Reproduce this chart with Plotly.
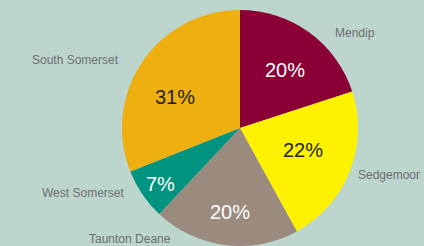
import plotly.graph_objects as go

labels = ["Mendip", "Sedgemoor", "Taunton Deane", "West Somerset", "South Somerset"]
values = [20, 22, 20, 7, 31]
colors = ["#8a0036", "#fff200", "#9b8b7e", "#00937f", "#eeb010"]
text_colors = ["white", "#222222", "white", "white", "#222222"]

# outside label positions and inside percent positions (pixels from top-left)
label_pos = [(355, 33), (389, 175), (130, 239), (83, 193), (75, 60)]
pct_pos = [(285, 70), (303, 150), (230, 212), (160, 184), (175, 97)]

W, H = 424, 246
fig = go.Figure(go.Pie(
    labels=labels, values=values, sort=False, direction="clockwise", rotation=0,
    marker=dict(colors=colors, line=dict(width=0)),
    textinfo="none",
    domain=dict(x=[(240 - 118) / W, (240 + 118) / W], y=[0, 236 / H]),
    hoverinfo="skip", showlegend=False,
))
for lab, (px, py) in zip(labels, label_pos):
    fig.add_annotation(x=px / W, y=1 - py / H, xref="paper", yref="paper", text=lab,
                       showarrow=False, xanchor="center", yanchor="middle",
                       font=dict(family="Liberation Sans", size=12, color="#6e6e6e"))
for v, tc, (px, py) in zip(values, text_colors, pct_pos):
    fig.add_annotation(x=px / W, y=1 - py / H, xref="paper", yref="paper", text=f"{v}%",
                       showarrow=False, xanchor="center", yanchor="middle",
                       font=dict(family="Liberation Sans", size=20, color=tc))
fig.update_layout(width=W, height=H, margin=dict(l=0, r=0, t=0, b=0),
                  paper_bgcolor="#bcd6ce", plot_bgcolor="#bcd6ce")
fig.write_html("out.html", config={"displayModeBar": False, "staticPlot": True},
               post_script="document.body.style.margin='0';document.body.style.overflow='hidden';")
